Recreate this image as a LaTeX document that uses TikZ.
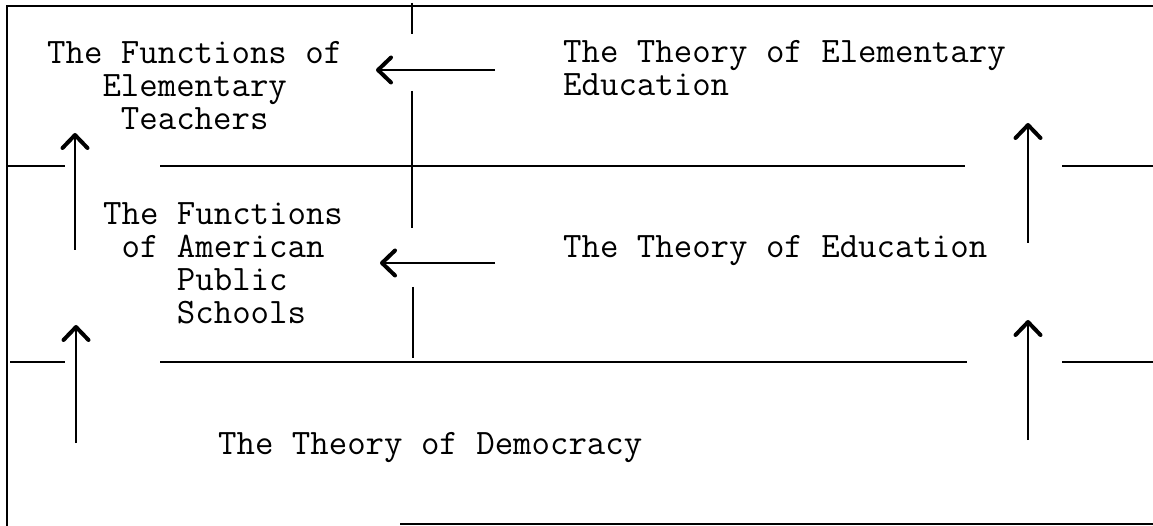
\documentclass[tikz,border=0pt]{standalone}
\usetikzlibrary{arrows.meta}
\begin{document}
\begin{tikzpicture}[x=1pt,y=-1pt,
  txt/.style={anchor=base west,inner sep=0pt,font=\fontsize{35.8}{33}\selectfont\ttfamily},
  frame/.style={line width=2.2pt},
  rule/.style={line width=2.8pt},
  conn/.style={line width=2.2pt,-{Straight Barb[length=13pt,width=25pt,line width=4pt,round]}}]
\useasboundingbox (0,0) rectangle (1153,526);
% frame
\draw[frame] (1153,6) -- (7,6) -- (7,526);
\draw[frame] (400,524) -- (1153,524);
% texts
\node[txt] (fet) at (47,64) {\begin{tabular}[t]{@{}c@{}}The Functions of\\Elementary\\Teachers\end{tabular}};
\node[txt] (tee) at (563,63) {\begin{tabular}[t]{@{}l@{}}The Theory of Elementary\\Education\end{tabular}};
\node[txt] (faps) at (103,225) {\begin{tabular}[t]{@{}l@{}}The Functions\\\hphantom{x}of American\\\hphantom{xxxx}Public\\\hphantom{xxxx}Schools\end{tabular}};
\node[txt] (te) at (563,258) {The Theory of Education};
\node[txt] (td) at (218,454) {The Theory of Democracy};
% horizontal rules
\draw[rule] (8,166) -- (65,166);
\draw[rule] (160,166) -- (965,166);
\draw[rule] (1062,166) -- (1153,166);
\draw[rule] (10,362) -- (65,362);
\draw[rule] (160,362) -- (967,362);
\draw[rule] (1062,362) -- (1153,362);
% central vertical
\draw[frame] (412,3) -- (412,34);
\draw[frame] (412,91) -- (412,228);
\draw[frame] (413,287) -- (413,358);
% horizontal arrows
\coordinate (a1s) at (495,70); \coordinate (a1e) at (376,70);
\coordinate (a2s) at (495,263); \coordinate (a2e) at (380,263);
\draw[conn] (a1s) -- (a1e);
\draw[conn] (a2s) -- (a2e);
% vertical arrows
\coordinate (l1s) at (75,250); \coordinate (l1e) at (75,133);
\coordinate (l2s) at (76,443); \coordinate (l2e) at (76,325);
\coordinate (r1s) at (1028,243); \coordinate (r1e) at (1028,123);
\coordinate (r2s) at (1028,440); \coordinate (r2e) at (1028,320);
\draw[conn] (l1s) -- (l1e);
\draw[conn] (l2s) -- (l2e);
\draw[conn] (r1s) -- (r1e);
\draw[conn] (r2s) -- (r2e);
\end{tikzpicture}
\end{document}
